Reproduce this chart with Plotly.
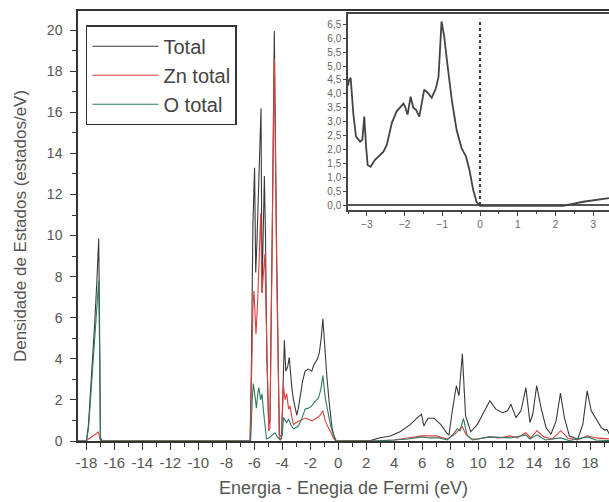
import plotly.graph_objects as go

# ---------------- data ----------------
FERMI = 0.0

E_total = [-18.6, -18.0, -17.85, -17.7, -17.55, -17.4, -17.25, -17.12, -17.05, -17.0, -16.9,
           -6.3, -6.2, -6.1, -5.98, -5.9, -5.82, -5.72, -5.62, -5.52, -5.45, -5.38, -5.28, -5.2,
           -5.1, -4.97, -4.88, -4.72, -4.57, -4.4, -4.21, -4.05, -3.97, -3.9, -3.85, -3.75, -3.62,
           -3.5, -3.4, -3.32, -3.2, -3.05, -2.96, -2.85, -2.7, -2.55, -2.37, -2.15, -2.0, -1.89,
           -1.75, -1.65, -1.48, -1.35, -1.22, -1.1, -1.0, -0.9, -0.81, -0.65, -0.45, -0.3, -0.14,
           0.0, 1.5, 2.3, 3.0, 3.73, 4.45, 5.16, 5.65, 5.95, 6.12, 6.41, 6.84, 7.32, 7.75, 7.91,
           8.15, 8.44, 8.63, 8.87, 9.1, 9.47, 9.95, 10.4, 10.83, 11.26, 11.74, 12.1, 12.34, 12.7,
           13.06, 13.41, 13.7, 13.9, 14.18, 14.49, 14.85, 15.2, 15.57, 15.88, 16.16, 16.52, 17.12,
           17.48, 17.79, 18.08, 18.44, 18.8, 19.08, 19.2, 19.44]
DOS_total = [0.0, 0.0, 0.8, 2.3, 4.0, 5.8, 7.8, 9.85, 5.0, 0.2, 0.0,
             0.0, 4.0, 10.5, 13.3, 8.2, 9.5, 11.7, 13.5, 16.2, 7.2, 10.0, 12.9, 10.0,
             4.0, 0.8, 1.0, 10.0, 19.95, 9.0, 0.3, 0.2, 2.0, 4.2, 4.9, 3.4, 3.6,
             4.07, 3.2, 2.6, 2.0, 1.4, 1.25, 1.6, 2.2, 2.9, 3.4, 3.5, 3.45, 3.4,
             3.7, 3.8, 4.0, 4.3, 5.0, 5.95, 4.8, 3.6, 3.1, 1.9, 0.65, 0.25, 0.0,
             0.0, 0.0, 0.02, 0.16, 0.24, 0.46, 0.81, 1.14, 1.3, 0.73, 1.11, 1.11, 0.81, 0.4, 0.28,
             1.47, 2.69, 2.2, 4.24, 1.22, 0.45, 0.81, 1.38, 1.96, 1.55, 1.38, 1.47, 1.79, 1.14,
             1.47, 2.6, 0.9, 1.3, 2.69, 1.63, 0.65, 0.33, 0.98, 2.33, 1.14, 0.24, 0.1,
             0.81, 2.44, 1.47, 1.06, 0.65, 0.52, 0.57, 0.24]

E_zn = [-18.6, -18.0, -17.85, -17.6, -17.3, -17.15, -17.05, -17.0, -16.9,
        -6.3, -6.2, -6.1, -6.02, -5.95, -5.88, -5.76, -5.64, -5.54, -5.45, -5.35, -5.24, -5.15,
        -5.05, -4.97, -4.88, -4.72, -4.57, -4.4, -4.21, -4.05, -3.97, -3.92, -3.8, -3.68, -3.55,
        -3.45, -3.3, -3.2, -3.0, -2.73, -2.37, -2.1, -1.89, -1.7, -1.53, -1.3, -1.1, -0.93,
        -0.75, -0.57, -0.35, -0.15, 0.0, 2.5, 4.0, 5.0, 6.0, 7.0, 7.8, 8.27, 8.63, 8.87, 9.1,
        9.5, 10.0, 10.8, 11.5, 12.3, 12.8, 13.4, 13.75, 14.2, 14.7, 15.3, 15.9, 16.4, 17.1,
        17.8, 18.4, 19.44]
DOS_zn = [0.0, 0.0, 0.1, 0.2, 0.35, 0.45, 0.2, 0.0, 0.0,
          0.0, 3.0, 6.5, 7.3, 6.0, 5.2, 6.8, 9.8, 11.1, 7.2, 8.0, 9.1, 6.0,
          2.5, 0.5, 0.6, 9.5, 18.6, 8.3, 0.1, 0.1, 1.5, 2.7, 2.0, 2.3, 1.55,
          1.7, 1.1, 0.8, 0.9, 0.98, 1.12, 1.05, 0.98, 1.05, 1.14, 1.25, 1.47, 0.98,
          0.7, 0.49, 0.15, 0.0, 0.0, 0.0, 0.05, 0.15, 0.25, 0.25, 0.1, 0.3, 0.55, 0.7, 0.35,
          0.1, 0.1, 0.2, 0.15, 0.25, 0.15, 0.4, 0.15, 0.5, 0.2, 0.1, 0.5, 0.15, 0.05,
          0.25, 0.15, 0.1]

E_o = [-18.6, -18.0, -17.85, -17.7, -17.55, -17.4, -17.25, -17.12, -17.05, -17.0, -16.9,
       -6.26, -6.15, -6.07, -5.95, -5.85, -5.75, -5.67, -5.55, -5.45, -5.35, -5.22, -5.13,
       -4.95, -4.76, -4.6, -4.52, -4.35, -4.15, -4.0, -3.92, -3.8, -3.68, -3.55, -3.4, -3.2,
       -3.0, -2.85, -2.6, -2.37, -2.15, -1.96, -1.72, -1.41, -1.25, -1.1, -0.93, -0.75, -0.57,
       -0.35, -0.2, 0.0, 2.5, 4.0, 5.0, 6.0, 6.5, 7.2, 7.8, 8.3, 8.5, 8.7, 8.95, 9.2, 9.6,
       10.8, 12.3, 13.4, 13.7, 14.2, 14.8, 15.9, 16.5, 17.8, 18.4, 19.44]
DOS_o = [0.0, 0.0, 0.6, 2.0, 3.5, 5.0, 6.5, 7.8, 4.0, 0.1, 0.0,
         0.0, 2.0, 2.8, 2.2, 1.6, 2.3, 2.6, 2.0, 2.3, 1.5, 0.6, 0.1,
         0.15, 0.25, 0.35, 0.4, 0.2, 0.05, 0.3, 1.15, 1.0, 0.9, 1.07, 0.8, 0.58,
         0.65, 0.73, 1.1, 1.55, 1.6, 1.66, 1.87, 2.1, 2.5, 3.18, 2.1, 1.4, 0.82,
         0.3, 0.0, 0.0, 0.0, 0.05, 0.1, 0.2, 0.15, 0.15, 0.05, 0.4, 0.6, 0.5, 1.1, 0.3, 0.05,
         0.2, 0.15, 0.3, 0.1, 0.3, 0.05, 0.15, 0.02, 0.2, 0.05, 0.02]

# inset: total DOS close to the Fermi level
E_inset = [-3.5, -3.47, -3.43, -3.36, -3.29, -3.18, -3.12, -3.07, -3.02, -2.98, -2.9, -2.79,
           -2.56, -2.47, -2.34, -2.21, -2.03, -1.99, -1.92, -1.84, -1.77, -1.70, -1.61, -1.48,
           -1.39, -1.28, -1.17, -1.1, -1.02, -0.95, -0.87, -0.75, -0.62, -0.49, -0.37, -0.28,
           -0.18, -0.09, 0.0, 1.0, 2.2, 2.74, 3.1, 3.42]
DOS_inset = [4.3, 4.5, 4.58, 3.3, 2.47, 2.28, 2.35, 3.18, 2.1, 1.44, 1.38, 1.62,
             1.92, 2.17, 2.95, 3.37, 3.65, 3.55, 3.25, 3.9, 3.5, 3.43, 3.18, 4.15,
             4.04, 3.86, 4.2, 4.62, 6.6, 6.07, 5.12, 3.79, 2.7, 2.05, 1.74, 1.26,
             0.54, 0.11, -0.03, -0.04, -0.03, 0.12, 0.2, 0.25]

main_ticks = list(range(-18, 19, 2))
main_ticktext = [str(v) for v in main_ticks]
minor_x = list(range(-19, 20, 2))

# ---------------- figure ----------------
FONT = "Liberation Sans, Arial, sans-serif"
fig = go.Figure()
fig.add_trace(go.Scatter(x=E_total, y=DOS_total, mode="lines", name="Total",
                         line=dict(color="#3a3a3a", width=1.1)))
fig.add_trace(go.Scatter(x=E_zn, y=DOS_zn, mode="lines", name="Zn total",
                         line=dict(color="#e0403c", width=1.1)))
fig.add_trace(go.Scatter(x=E_o, y=DOS_o, mode="lines", name="O total",
                         line=dict(color="#2e7a64", width=1.1)))
fig.add_trace(go.Scatter(x=E_inset, y=DOS_inset, mode="lines", xaxis="x2", yaxis="y2",
                         showlegend=False, line=dict(color="#444444", width=1.8)))

fig.add_shape(type="line", xref="x2", yref="y2", x0=FERMI, x1=FERMI, y0=0, y1=6.7,
              line=dict(color="#444444", width=2.2, dash="dot"))

fig.update_layout(
    width=609, height=502,
    margin=dict(l=78, r=0, t=11, b=61),
    paper_bgcolor="white", plot_bgcolor="white",
    font=dict(family=FONT, color="#555555"),
    separators=",.",
    showlegend=True,
    legend=dict(x=0.015, y=0.967, xanchor="left", yanchor="top",
                bordercolor="#333333", borderwidth=1.5, bgcolor="white",
                font=dict(size=20, color="#444444", family=FONT),
                itemwidth=66, tracegroupgap=0),
    xaxis=dict(range=[-18.6, 19.35], domain=[0, 1], showline=True, linecolor="#333333",
               linewidth=1.5, mirror=True, ticks="outside", ticklen=7, tickwidth=1.2,
               tickcolor="#333333", tickmode="array", tickvals=main_ticks,
               ticktext=main_ticktext, tickfont=dict(size=15, color="#555555"),
               minor=dict(tickmode="array", tickvals=minor_x, ticklen=4,
                          tickcolor="#333333", tickwidth=1.2, ticks="outside"),
               showgrid=False, zeroline=False,
               title=dict(text="Energia - Enegia de Fermi (eV)",
                          font=dict(size=18, color="#555555"), standoff=12)),
    yaxis=dict(range=[0, 20.93], domain=[0, 1], showline=True, linecolor="#333333",
               linewidth=1.5, ticks="outside", ticklen=6, tickwidth=1.2, tickcolor="#333333",
               tickmode="linear", tick0=0, dtick=2, tickfont=dict(size=14, color="#555555"),
               ticklabelstandoff=5,
               minor=dict(dtick=1, tick0=0, ticklen=4, tickcolor="#333333", tickwidth=1.2,
                          ticks="outside"),
               showgrid=False, zeroline=False,
               title=dict(text="Densidade de Estados (estados/eV)",
                          font=dict(size=17, color="#555555"), standoff=16)),
    xaxis2=dict(anchor="y2", domain=[0.5085, 1], range=[-3.5, 3.42], showline=True,
                linecolor="#444444", linewidth=1.5, mirror=True, ticks="outside", ticklen=4,
                tickcolor="#444444", tickmode="linear", tick0=0, dtick=1,
                tickfont=dict(size=10, color="#666666"),
                minor=dict(dtick=0.5, tick0=0, ticklen=2, tickcolor="#444444", ticks="outside"),
                showgrid=False, zeroline=False),
    yaxis2=dict(anchor="x2", domain=[0.537, 0.993], range=[-0.18, 6.87], showline=True,
                linecolor="#444444", linewidth=1.5, ticks="outside", ticklen=3,
                tickcolor="#444444", dtick=0.5, tick0=0, tickformat=".1f",
                tickfont=dict(size=10, color="#666666"),
                showgrid=False, zeroline=True, zerolinecolor="#555555", zerolinewidth=1.5),
)

fig.write_html("out.html")
